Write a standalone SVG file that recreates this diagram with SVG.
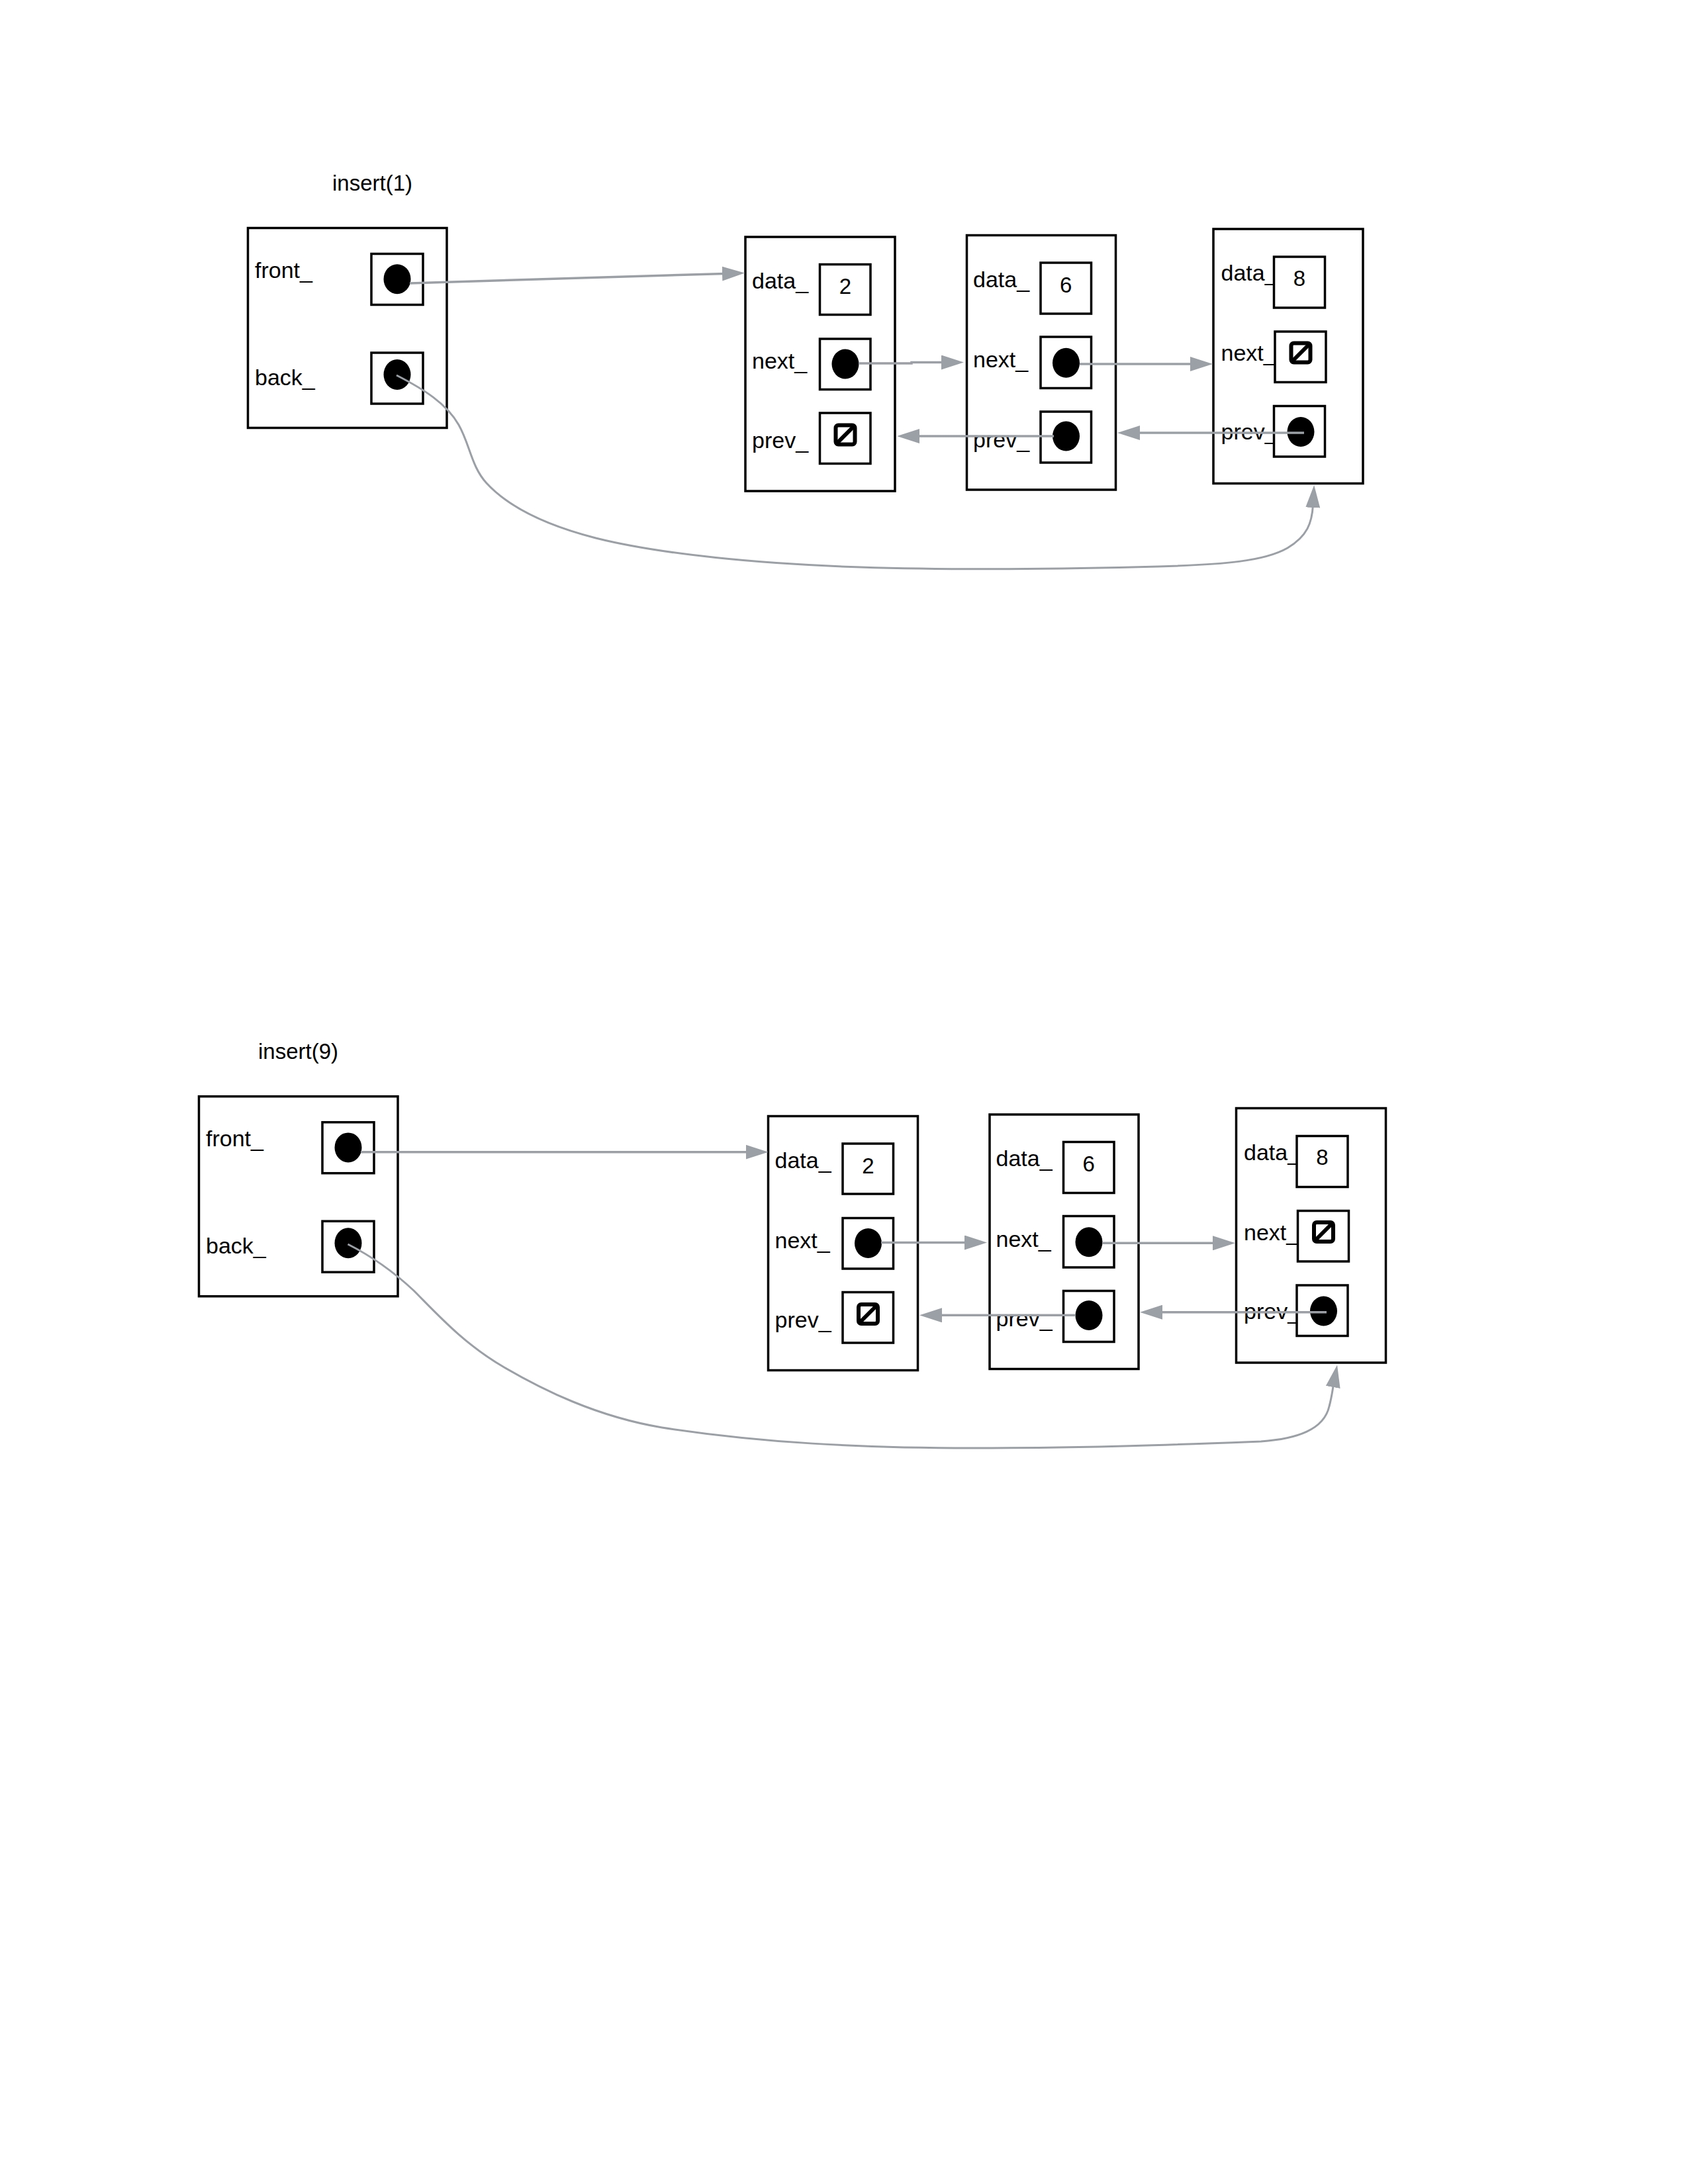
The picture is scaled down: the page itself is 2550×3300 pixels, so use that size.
<svg xmlns="http://www.w3.org/2000/svg" xmlns:xlink="http://www.w3.org/1999/xlink" width="2550" height="3300" viewBox="0 0 2550 3300">
<style>
  .frame { fill: #ffffff; stroke: #000000; stroke-width: 3.5; }
  .cell { fill: #ffffff; stroke: #000000; stroke-width: 3.5; }
  .dot { fill: #000000; }
  .lbl { font-family: "Liberation Sans", Arial, sans-serif; font-size: 34px; fill: #000000; }
  .num { font-family: "Liberation Sans", Arial, sans-serif; font-size: 33px; fill: #000000; text-anchor: middle; }
  .title { font-family: "Liberation Sans", Arial, sans-serif; font-size: 33px; fill: #000000; }
  .conn { fill: none; stroke: #9aa0a6; stroke-width: 3.5; }
  .curve { fill: none; stroke: #9aa0a6; stroke-width: 3; }
</style>
<defs>
  <marker id="arr" markerUnits="userSpaceOnUse" viewBox="0 0 34 22" markerWidth="34" markerHeight="22" refX="4" refY="11" orient="auto">
    <path d="M0,0 L34,11 L0,22 z" fill="#9aa0a6"/>
  </marker>
  <g id="nullsym">
    <rect x="-14.5" y="-14.5" width="29" height="29" rx="4" fill="none" stroke="#000" stroke-width="6"/>
    <line x1="-14.5" y1="14.5" x2="14.5" y2="-14.5" stroke="#000" stroke-width="6"/>
  </g>
</defs>
<rect width="2550" height="3300" fill="#ffffff"/>

<!-- Diagram 1 -->
<g id="title1"><text class="title" x="502" y="288">insert(1)</text></g>

<g id="header1">
  <rect class="frame" x="374.5" y="344.5" width="300.5" height="302"/>
  <text class="lbl" x="385" y="420">front_</text>
  <rect class="cell" x="561" y="383.5" width="78" height="77"/>
  <ellipse class="dot" cx="600" cy="421.7" rx="20.5" ry="22.5"/>
  <text class="lbl" x="385" y="582">back_</text>
  <rect class="cell" x="561" y="533" width="78" height="77"/>
  <ellipse class="dot" cx="600" cy="566" rx="20.5" ry="23"/>
</g>

<g id="nodeA1">
  <rect class="frame" x="1126" y="358" width="226" height="384"/>
  <text class="lbl" x="1136" y="436">data_</text>
  <text class="lbl" x="1136" y="557">next_</text>
  <text class="lbl" x="1136" y="677">prev_</text>
  <rect class="cell" x="1238.5" y="399.5" width="76.5" height="76"/>
  <text class="num" x="1277" y="444">2</text>
  <rect class="cell" x="1238.5" y="512" width="76.5" height="76.5"/>
  <ellipse class="dot" cx="1277" cy="550" rx="20.5" ry="22.5"/>
  <rect class="cell" x="1238.5" y="624" width="76.5" height="76.5"/>
  <use xlink:href="#nullsym" href="#nullsym" transform="translate(1277,657)"/>
</g>

<g id="nodeB1">
  <rect class="frame" x="1460.5" y="355.5" width="225" height="384.5"/>
  <text class="lbl" x="1470" y="433.5">data_</text>
  <text class="lbl" x="1470" y="555">next_</text>
  <text class="lbl" x="1470" y="675.5">prev_</text>
  <rect class="cell" x="1572" y="397" width="76.5" height="77"/>
  <text class="num" x="1610.3" y="441.5">6</text>
  <rect class="cell" x="1572" y="509" width="76.5" height="77.5"/>
  <ellipse class="dot" cx="1610.5" cy="548.3" rx="20.5" ry="22.5"/>
  <rect class="cell" x="1572" y="622" width="76.5" height="77"/>
  <ellipse class="dot" cx="1610.5" cy="659" rx="20.5" ry="22.5"/>
</g>

<g id="nodeC1">
  <rect class="frame" x="1833" y="346" width="226" height="384.5"/>
  <text class="lbl" x="1844.5" y="424">data_</text>
  <text class="lbl" x="1844.5" y="545">next_</text>
  <text class="lbl" x="1844.5" y="664">prev_</text>
  <rect class="cell" x="1924.5" y="388" width="77" height="77"/>
  <text class="num" x="1963" y="431.7">8</text>
  <rect class="cell" x="1926" y="501" width="77" height="76.5"/>
  <use xlink:href="#nullsym" href="#nullsym" transform="translate(1965,533)"/>
  <rect class="cell" x="1924.5" y="613.5" width="77" height="76.5"/>
  <ellipse class="dot" cx="1965" cy="652.5" rx="20.5" ry="22.5"/>
</g>

<!-- Diagram 2 -->
<g id="title2"><text class="title" x="390" y="1600">insert(9)</text></g>

<g id="header2" transform="translate(-74,1312.2)">
  <rect class="frame" x="374.5" y="344.5" width="300.5" height="302"/>
  <text class="lbl" x="385" y="420">front_</text>
  <rect class="cell" x="561" y="383.5" width="78" height="77"/>
  <ellipse class="dot" cx="600" cy="421.7" rx="20.5" ry="22.5"/>
  <text class="lbl" x="385" y="582">back_</text>
  <rect class="cell" x="561" y="533" width="78" height="77"/>
  <ellipse class="dot" cx="600" cy="566" rx="20.5" ry="23"/>
</g>

<g id="nodeA2" transform="translate(34.5,1328.5)">
  <rect class="frame" x="1126" y="358" width="226" height="384"/>
  <text class="lbl" x="1136" y="436">data_</text>
  <text class="lbl" x="1136" y="557">next_</text>
  <text class="lbl" x="1136" y="677">prev_</text>
  <rect class="cell" x="1238.5" y="399.5" width="76.5" height="76"/>
  <text class="num" x="1277" y="444">2</text>
  <rect class="cell" x="1238.5" y="512" width="76.5" height="76.5"/>
  <ellipse class="dot" cx="1277" cy="550" rx="20.5" ry="22.5"/>
  <rect class="cell" x="1238.5" y="624" width="76.5" height="76.5"/>
  <use xlink:href="#nullsym" href="#nullsym" transform="translate(1277,657)"/>
</g>

<g id="nodeB2" transform="translate(34.5,1328.5)">
  <rect class="frame" x="1460.5" y="355.5" width="225" height="384.5"/>
  <text class="lbl" x="1470" y="433.5">data_</text>
  <text class="lbl" x="1470" y="555">next_</text>
  <text class="lbl" x="1470" y="675.5">prev_</text>
  <rect class="cell" x="1572" y="397" width="76.5" height="77"/>
  <text class="num" x="1610.3" y="441.5">6</text>
  <rect class="cell" x="1572" y="509" width="76.5" height="77.5"/>
  <ellipse class="dot" cx="1610.5" cy="548.3" rx="20.5" ry="22.5"/>
  <rect class="cell" x="1572" y="622" width="76.5" height="77"/>
  <ellipse class="dot" cx="1610.5" cy="659" rx="20.5" ry="22.5"/>
</g>

<g id="nodeC2" transform="translate(34.5,1328.5)">
  <rect class="frame" x="1833" y="346" width="226" height="384.5"/>
  <text class="lbl" x="1844.5" y="424">data_</text>
  <text class="lbl" x="1844.5" y="545">next_</text>
  <text class="lbl" x="1844.5" y="664">prev_</text>
  <rect class="cell" x="1924.5" y="388" width="77" height="77"/>
  <text class="num" x="1963" y="431.7">8</text>
  <rect class="cell" x="1926" y="501" width="77" height="76.5"/>
  <use xlink:href="#nullsym" href="#nullsym" transform="translate(1965,533)"/>
  <rect class="cell" x="1924.5" y="613.5" width="77" height="76.5"/>
  <ellipse class="dot" cx="1965" cy="652.5" rx="20.5" ry="22.5"/>
</g>

<g id="connectors">
  <!-- diagram 1 -->
  <path class="conn" d="M619,428 L1095,413.4" marker-end="url(#arr)"/>
  <path class="curve" d="M599,567 C640,588 675,610 693,642 C710,672 712,705 735,730 C770,768 830,795 900,813 C1000,838 1150,852 1300,857 C1450,862 1600,860 1750,856 C1850,853 1910,848 1945,828 C1975,810 1982,790 1983.5,763" marker-end="url(#arr)"/>
  <path class="conn" d="M1297,549 H1377 V547.5 H1426" marker-end="url(#arr)"/>
  <path class="conn" d="M1631,550 H1802" marker-end="url(#arr)"/>
  <path class="conn" d="M1592,659 H1385" marker-end="url(#arr)"/>
  <path class="conn" d="M1970,654 H1718" marker-end="url(#arr)"/>
  <!-- diagram 2 -->
  <path class="conn" d="M545,1740.7 H1130.5" marker-end="url(#arr)"/>
  <path class="curve" d="M525.5,1880 C565,1900 595,1922 625,1950 C660,1985 700,2030 760,2065 C820,2100 900,2140 1000,2157 C1150,2180 1300,2188 1470,2188 C1650,2188 1800,2182 1905,2178 C1960,2174 2000,2160 2008,2125 C2012,2110 2013,2100 2014.5,2092" marker-end="url(#arr)"/>
  <path class="conn" d="M1331,1877.5 H1461" marker-end="url(#arr)"/>
  <path class="conn" d="M1665,1878.3 H1836" marker-end="url(#arr)"/>
  <path class="conn" d="M1625,1987.3 H1419" marker-end="url(#arr)"/>
  <path class="conn" d="M2004,1982.7 H1752" marker-end="url(#arr)"/>
</g>
</svg>
